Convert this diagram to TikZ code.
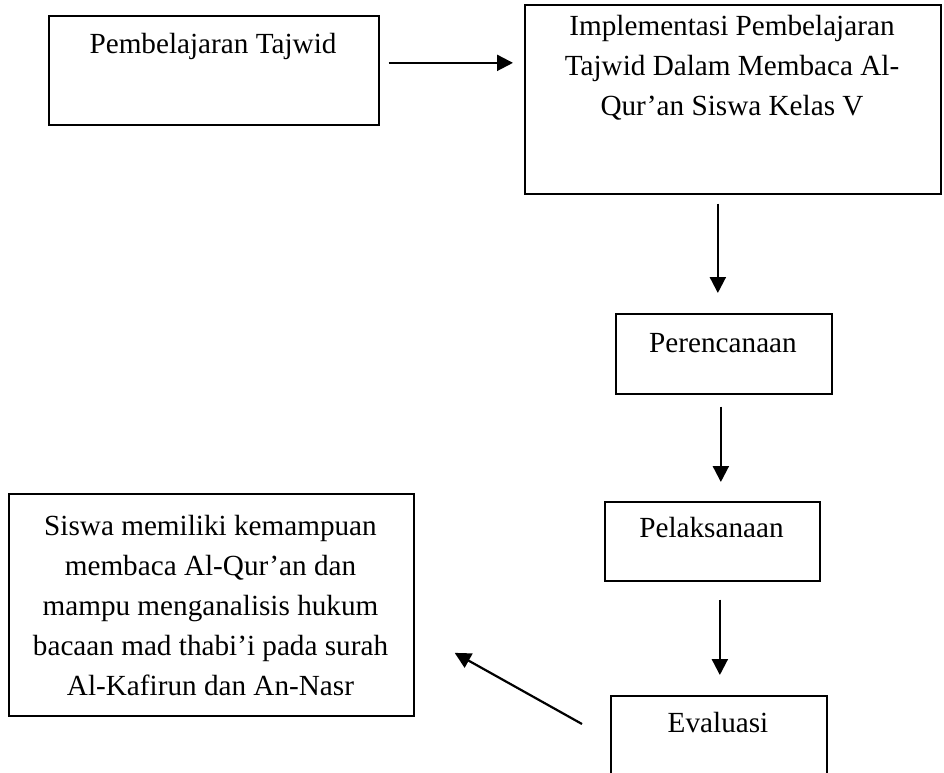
\documentclass[tikz,border=0pt]{standalone}
\usepackage{fontspec}
\setmainfont{Liberation Serif}
\usetikzlibrary{arrows.meta}
\begin{document}
\begin{tikzpicture}[x=1pt,y=-1pt,
  box/.style={draw, line width=1.7pt, rectangle, inner sep=0pt, anchor=north west},
  txt/.style={anchor=base, align=center, inner sep=0pt, font=\fontsize{29.2}{40}\selectfont},
  arr/.style={line width=2.2pt, -{Triangle[length=16pt,width=16pt]}}]
\clip (0,0) rectangle (944,772);
\fill[white] (0,0) rectangle (944,772);
% boxes
\node[box, minimum width=330pt, minimum height=109pt] (b1) at (48,15) {};
\node[box, minimum width=416pt, minimum height=189pt] (b2) at (524,4) {};
\node[box, minimum width=216pt, minimum height=80pt] (b3) at (615,313) {};
\node[box, minimum width=215pt, minimum height=79pt] (b4) at (604,501) {};
\node[box, minimum width=216pt, minimum height=110pt] (b5) at (610,695) {};
\node[box, minimum width=405pt, minimum height=222pt] (b6) at (8,493) {};
% texts (multi-line nodes: base = last line's baseline)
\node[txt] (t1) at (213,53) {Pembelajaran Tajwid};
\node[txt] (t2) at (732,115) {Implementasi Pembelajaran\\Tajwid Dalam Membaca Al-\\Qur’an Siswa Kelas V};
\node[txt] (t3) at (723,352) {Perencanaan};
\node[txt] (t4) at (711.5,537) {Pelaksanaan};
\node[txt] (t5) at (718,732) {Evaluasi};
\node[txt] (t6) at (210.5,695) {Siswa memiliki kemampuan\\membaca Al-Qur’an dan\\mampu menganalisis hukum\\bacaan mad thabi’i pada surah\\Al-Kafirun dan An-Nasr};
% connectors
\draw[arr, shorten <=9pt, shorten >=11pt] ([yshift=7.5pt]b1.east) -- ([yshift=7.5pt]b1.east -| b2.west);
\draw[arr, shorten <=9pt, shorten >=20pt] ([xshift=-15pt]b2.south) -- ([xshift=-15pt]b2.south |- b3.north);
\draw[arr, shorten <=12pt, shorten >=19pt] ([xshift=-3pt]b3.south) -- ([xshift=-3pt]b3.south |- b4.north);
\draw[arr, shorten <=18pt, shorten >=20pt] ([xshift=7.5pt]b4.south) -- ([xshift=7.5pt]b4.south |- b5.north);
\draw[arr] ([xshift=-28pt,yshift=-29pt]b5.north west) -- ([xshift=40pt,yshift=-48pt]b6.east);
\end{tikzpicture}
\end{document}
